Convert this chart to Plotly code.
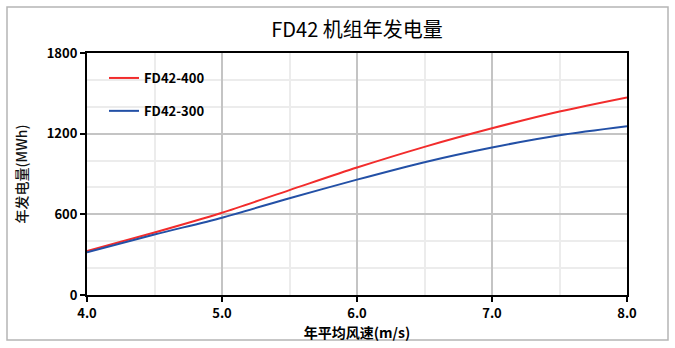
import plotly.graph_objects as go

# Annual energy yield of the FD42 turbine family vs. mean wind speed
wind_speed = [4.0, 4.5, 5.0, 5.5, 6.0, 6.5, 7.0, 7.5, 8.0]
fd42_400 = [327, 465, 612, 780, 948, 1102, 1240, 1365, 1470]
fd42_300 = [317, 450, 575, 720, 858, 988, 1097, 1188, 1255]

series = [
    ("FD42-400", fd42_400, "#f22c2c"),
    ("FD42-300", fd42_300, "#2350a6"),
]

W, H = 675, 348
L, R, T, B = 87, 48, 53, 53
pw, ph = W - L - R, H - T - B

FONT = "Noto Sans CJK SC"

fig = go.Figure()
for i, (name, vals, color) in enumerate(series):
    fig.add_trace(go.Scatter(
        x=wind_speed, y=vals, name=name, mode="lines",
        line=dict(color=color, width=2, shape="spline", smoothing=0.8),
        legendgroup=f"g{i}",
    ))

axis_common = dict(
    showline=True, linecolor="black", linewidth=2, mirror=True,
    ticks="outside", tickcolor="black", ticklen=5, tickwidth=2,
    showgrid=True, gridcolor="#c4c4c4", gridwidth=2,
    zeroline=False,
    tickfont=dict(family=FONT, size=13, color="black", weight="bold"),
)

fig.update_xaxes(
    range=[4.0, 8.0], dtick=1.0, tickformat=".1f",
    minor=dict(dtick=0.5, showgrid=True, gridcolor="#ececec", gridwidth=1.5),
    title=dict(text="年平均风速(m/s)", standoff=1,
               font=dict(family=FONT, size=14, color="black", weight="bold")),
    **axis_common,
)
fig.update_yaxes(
    range=[0, 1800], dtick=600,
    minor=dict(dtick=200, showgrid=True, gridcolor="#ececec", gridwidth=1.5),
    title=dict(text="年发电量(MWh)", standoff=16,
               font=dict(family=FONT, size=14, color="#111111", weight=500)),
    **axis_common,
)

# light frame around the whole chart
def px_x(p):
    return (p - L) / pw

def px_y(p):
    return (H - B - p) / ph

fig.add_shape(type="rect", xref="paper", yref="paper",
              x0=px_x(7), x1=px_x(668), y0=px_y(340), y1=px_y(7),
              line=dict(color="#b5b5b5", width=1.5), layer="below")

fig.update_layout(
    width=W, height=H,
    margin=dict(l=L, r=R, t=T, b=B),
    paper_bgcolor="white", plot_bgcolor="white",
    title=dict(text="FD42 机组年发电量", x=0.5, xref="paper", xanchor="center",
               y=1 - 30 / H, yanchor="middle",
               font=dict(family=FONT, size=20, color="black")),
    showlegend=True,
    legend=dict(
        x=px_x(104), y=px_y(63), xanchor="left", yanchor="top",
        bgcolor="rgba(0,0,0,0)", borderwidth=0,
        traceorder="grouped", tracegroupgap=13, itemwidth=30,
        font=dict(family=FONT, size=13, color="black", weight="bold"),
    ),
)

fig.write_html("out.html")
